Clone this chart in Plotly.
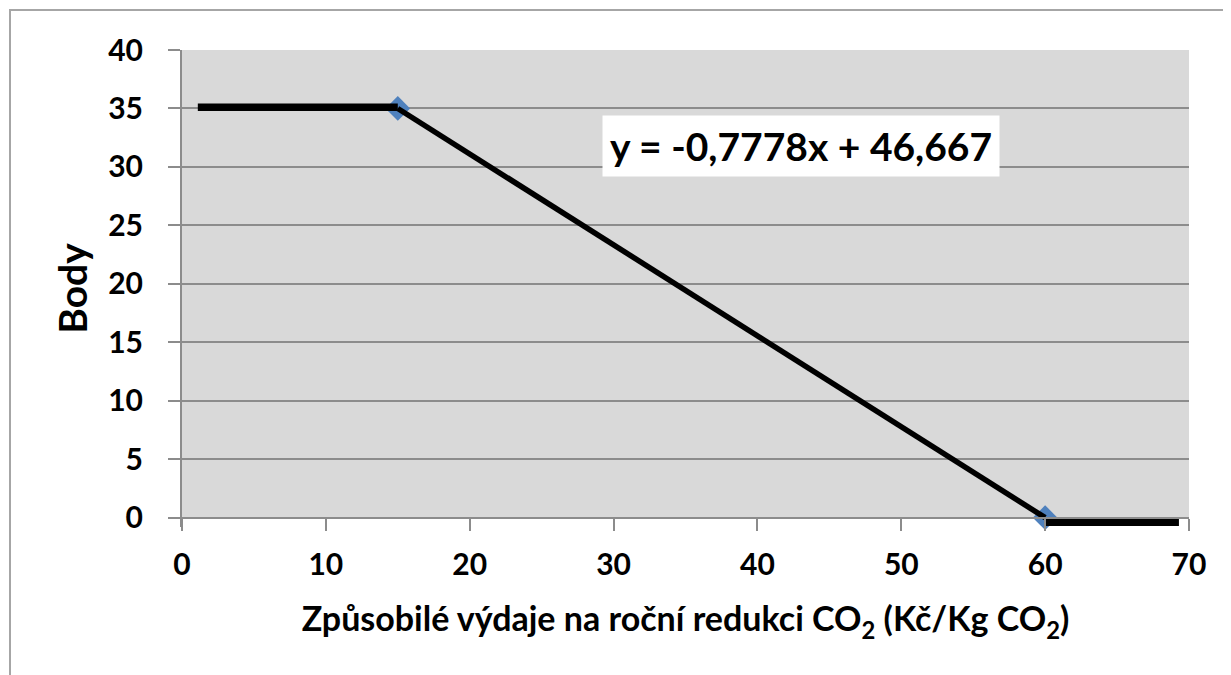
import plotly.graph_objects as go

# data
point_x = [15, 60]
point_y = [35, 0]
upper_x = [1.1, 15]
upper_y = [35.1, 35.1]
lower_x = [60, 69.3]
lower_y = [-0.4, -0.4]
x_ticks = [0, 10, 20, 30, 40, 50, 60, 70]
y_ticks = [0, 5, 10, 15, 20, 25, 30, 35, 40]
equation = "y = -0,7778x + 46,667"
x_title = "Způsobilé výdaje na roční redukci CO<sub>2</sub> (Kč/Kg CO<sub>2</sub>)"
y_title = "Body"

X_RANGE = [0, 70]
Y_RANGE = [-0.8, 40]   # a little room below zero for the thick bottom segment

FONT = "Lato"
GRID = "#8c8c8c"

fig = go.Figure()
fig.add_trace(go.Scatter(x=point_x, y=point_y, mode="markers",
                         marker=dict(symbol="diamond", size=19, color="#4f81bd"),
                         showlegend=False, cliponaxis=False))
fig.add_trace(go.Scatter(x=point_x, y=point_y, mode="lines",
                         line=dict(color="black", width=5.5),
                         showlegend=False))
fig.add_trace(go.Scatter(x=upper_x, y=upper_y, mode="lines",
                         line=dict(color="black", width=7.5),
                         showlegend=False))
fig.add_trace(go.Scatter(x=lower_x, y=lower_y, mode="lines",
                         line=dict(color="black", width=7.5),
                         showlegend=False))

fig.add_annotation(x=43.0, y=31.8, xref="x", yref="y", text="<b>%s</b>" % equation,
                   showarrow=False, bgcolor="white", borderpad=7,
                   font=dict(family=FONT, size=39, color="black"))

# grey plotting area only from 0 upward
fig.add_shape(type="rect", xref="x", yref="y", x0=X_RANGE[0], x1=X_RANGE[1],
              y0=0, y1=Y_RANGE[1], fillcolor="#d9d9d9", line=dict(width=0), layer="below")
# outer chart border
fig.add_shape(type="rect", xref="paper", yref="paper",
              x0=-0.1708, x1=1.1, y0=-0.6, y1=1.0839,
              line=dict(color="#a6a6a6", width=2), fillcolor="rgba(0,0,0,0)", layer="below")

x_axis_pos = (0 - Y_RANGE[0]) / (Y_RANGE[1] - Y_RANGE[0])

fig.update_layout(
    width=1223, height=667,
    margin=dict(l=174, r=42, t=42, b=148),
    paper_bgcolor="white", plot_bgcolor="white",
    font=dict(family=FONT, color="black"),
    xaxis=dict(range=X_RANGE, tickvals=x_ticks, ticks="outside", ticklen=12,
               tickwidth=2, tickcolor=GRID, showgrid=False, zeroline=False,
               showline=True, linecolor=GRID, linewidth=2,
               anchor="free", position=x_axis_pos,
               tickfont=dict(family=FONT, size=30, color="black", weight="bold"),
               ticklabelstandoff=8,
               title=dict(text=x_title, standoff=27,
                          font=dict(family=FONT, size=34, color="black", weight="bold"))),
    yaxis=dict(range=Y_RANGE, tickvals=y_ticks, ticks="outside", ticklen=12,
               tickwidth=2, tickcolor=GRID, showgrid=True, gridcolor=GRID, gridwidth=2,
               zeroline=False, showline=True, linecolor=GRID, linewidth=2,
               tickfont=dict(family=FONT, size=30, color="black", weight="bold"),
               ticklabelstandoff=19,
               title=dict(text=y_title, standoff=9,
                          font=dict(family=FONT, size=39, color="black", weight="bold"))),
)

fig.write_html("out.html")
